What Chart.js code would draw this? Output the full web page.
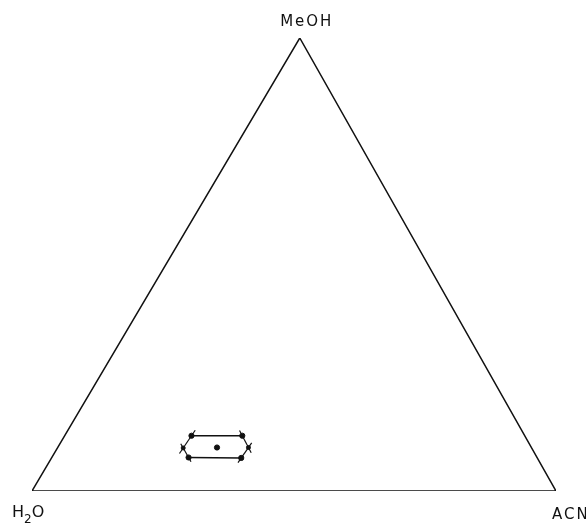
<!DOCTYPE html>
<html>
<head>
<meta charset="utf-8">
<script src="https://cdn.jsdelivr.net/npm/chart.js@4.4.0/dist/chart.umd.min.js"></script>
<style>
  html, body { margin: 0; padding: 0; background: #fff; }
  #wrap { width: 586px; height: 526px; }
</style>
</head>
<body>
<div id="wrap"><canvas id="ternary" width="586" height="526"></canvas></div>
<script>
// Solvent corners of the ternary diagram
const corners = ['H2O', 'ACN', 'MeOH'];

// Mobile phase compositions (volume fractions) of the region outline
const regionNames = ['top-left', 'top-right', 'right', 'bottom-right', 'bottom-left', 'left'];
const regionH2O  = [0.636, 0.539, 0.540, 0.565, 0.665, 0.665];
const regionACN  = [0.242, 0.339, 0.364, 0.362, 0.261, 0.240];
const regionMeOH = [0.122, 0.122, 0.096, 0.073, 0.074, 0.095];

// Centre composition
const centreH2O = 0.600, centreACN = 0.304, centreMeOH = 0.096;

const H = Math.sqrt(3) / 2;
// corner positions in plot units (apex sits a touch right of centre)
const apexX = 0.511;

// ternary fractions -> cartesian
function toXY(a, b, c) {
    const s = a + b + c;
    b /= s; c /= s;
    return { x: b + c * apexX, y: c * H };
}

const cornerPts = [toXY(1, 0, 0), toXY(0, 1, 0), toXY(0, 0, 1)];
const regionPts = regionH2O.map((a, i) => toXY(a, regionACN[i], regionMeOH[i]));
const centrePt = toXY(centreH2O, centreACN, centreMeOH);

// slanted edges are drawn a bit past both ends
function extended(p, q, k) {
    const dx = q.x - p.x, dy = q.y - p.y;
    return [
        { x: p.x - dx * k, y: p.y - dy * k },
        { x: q.x + dx * k, y: q.y + dy * k }
    ];
}
const [TL, TR, R, BR, BL, L] = regionPts;
const whiskers = [
    extended(L, TL, 0.45), extended(L, BL, 0.45),
    extended(R, TR, 0.45), extended(R, BR, 0.45)
];

const lineSet = (data, width) => ({
    data, showLine: true, borderColor: '#111', borderWidth: width,
    pointRadius: 0, fill: false, tension: 0
});

const datasets = [
    lineSet([...cornerPts, cornerPts[0]], 1.5),
    lineSet([TL, TR], 1.4),
    lineSet([BL, BR], 1.4),
    ...whiskers.map(w => lineSet(w, 1.2)),
    {
        data: [TL, TR, BR, BL, centrePt, L, R],
        showLine: false,
        backgroundColor: '#111', borderColor: '#111',
        pointRadius: [2.6, 2.6, 2.6, 2.6, 2.6, 2, 2]
    }
];

// corner labels
const cornerLabels = {
    id: 'cornerLabels',
    afterDraw(chart) {
        const { ctx, scales: { x, y } } = chart;
        const px = p => [x.getPixelForValue(p.x), y.getPixelForValue(p.y)];
        ctx.save();
        ctx.fillStyle = '#111';
        ctx.font = '15px "DejaVu Sans"';
        ctx.textBaseline = 'alphabetic';

        // MeOH at apex
        const [ax, ay] = px(cornerPts[2]);
        ctx.textAlign = 'center';
        ctx.letterSpacing = '2px';
        ctx.fillText('MeOH', ax + 7, ay - 12);

        // ACN bottom right
        const [bx, by] = px(cornerPts[1]);
        ctx.textAlign = 'left';
        ctx.fillText('ACN', bx - 4, by + 28);
        ctx.letterSpacing = '0px';

        // H2O bottom left, with subscript
        const [hx, hy] = px(cornerPts[0]);
        ctx.font = '16px "DejaVu Sans"';
        ctx.fillText('H', hx - 20, hy + 26);
        const wH = ctx.measureText('H').width;
        ctx.font = '12px "DejaVu Sans"';
        ctx.fillText('2', hx - 20 + wH, hy + 32);
        const w2 = ctx.measureText('2').width;
        ctx.font = '16px "DejaVu Sans"';
        ctx.fillText('O', hx - 20 + wH + w2, hy + 26);
        ctx.restore();
    }
};

new Chart(document.getElementById('ternary'), {
    type: 'scatter',
    data: { datasets },
    options: {
        responsive: false,
        animation: false,
        layout: { padding: { left: 32, right: 30, top: 38, bottom: 35 } },
        plugins: { legend: { display: false }, tooltip: { enabled: false } },
        scales: {
            x: { type: 'linear', min: 0, max: 1, display: false },
            y: { type: 'linear', min: 0, max: H, display: false }
        }
    },
    plugins: [cornerLabels]
});
</script>
</body>
</html>
